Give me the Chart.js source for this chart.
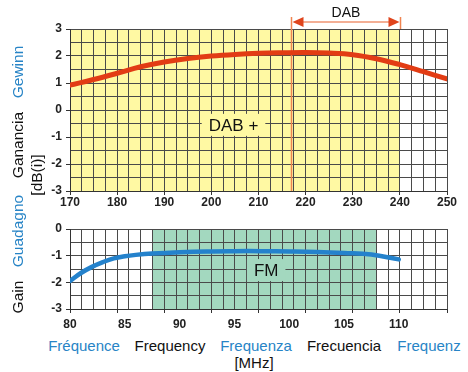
<!DOCTYPE html>
<html>
<head>
<meta charset="utf-8">
<script src="https://cdn.jsdelivr.net/npm/chart.js@4.4.1/dist/chart.umd.min.js"></script>
<style>
  body { margin: 0; background: #fff; }
  #wrap { position: relative; width: 468px; height: 372px; overflow: hidden; font-family: "Liberation Sans", Arial, sans-serif; }
  canvas { position: absolute; left: 0; }
  .lbl { position: absolute; white-space: nowrap; font-size: 15px; line-height: 1; transform: translate(-50%, -50%); }
  .rot { transform: translate(-50%, -50%) rotate(-90deg); font-size: 15.5px; }
  .blue { color: #2784c6; }
  .black { color: #111; }
</style>
</head>
<body>
<div id="wrap">
  <canvas id="dabChart" width="468" height="210" style="top:0"></canvas>
  <canvas id="fmChart" width="468" height="120" style="top:210px"></canvas>

  <div class="lbl rot blue" style="left:18px; top:72px">Gewinn</div>
  <div class="lbl rot black" style="left:18px; top:145px">Ganancia</div>
  <div class="lbl rot black" style="left:37px; top:175px">[dB(i)]</div>
  <div class="lbl rot blue" style="left:18px; top:231px">Guadagno</div>
  <div class="lbl rot black" style="left:18px; top:297px">Gain</div>

  <div class="lbl blue" style="left:84px; top:345px">Fréquence</div>
  <div class="lbl black" style="left:170px; top:345px">Frequency</div>
  <div class="lbl blue" style="left:256px; top:345px">Frequenza</div>
  <div class="lbl black" style="left:344px; top:345px">Frecuencia</div>
  <div class="lbl blue" style="left:429px; top:345px">Frequenz</div>
  <div class="lbl black" style="left:254px; top:362px">[MHz]</div>
</div>

<script>
// DAB band chart (MHz / dB(i))
const dabFreq = [170, 175, 180, 185, 190, 195, 200, 205, 210, 215, 220, 225, 230, 235, 240, 245, 250];
const dabGain = [0.92, 1.13, 1.36, 1.6, 1.78, 1.91, 2.0, 2.06, 2.1, 2.12, 2.13, 2.11, 2.05, 1.9, 1.68, 1.42, 1.15];
const dabTicks = [170, 180, 190, 200, 210, 220, 230, 240, 250];
const dabGainTicks = [3, 2, 1, 0, -1, -2, -3];
const dabPlusBand = [170, 240];
const dabBand = [216.8, 240];

// FM band chart
const fmFreq = [80, 81, 82, 83, 84, 85, 86, 87.5, 90, 92.5, 95, 97.5, 100, 102.5, 105, 107.5, 110];
const fmGain = [-1.95, -1.65, -1.42, -1.24, -1.1, -1.02, -0.97, -0.92, -0.87, -0.84, -0.83, -0.83, -0.84, -0.86, -0.9, -0.96, -1.14];
const fmTicks = [80, 85, 90, 95, 100, 105, 110];
const fmGainTicks = [0, -1, -2, -3];
const fmBand = [87.5, 108];
const fmRange = [80, 114.4];

const gridColor = '#4a4a4a';
const tickFont = { family: '"Liberation Sans", Arial, sans-serif', size: 12, weight: 'bold' };
const yellow = '#fff9a3';
const green = '#a3d8bf';
const orange = '#f08450';

Chart.defaults.animation = false;
Chart.defaults.plugins.legend.display = false;
Chart.defaults.plugins.tooltip.enabled = false;

// fills the band behind the grid, then draws the box label over it
const bandPlugin = {
    id: 'band',
    beforeDraw(chart, args, opts) {
        const { ctx, chartArea } = chart;
        const x = chart.scales.x;
        ctx.save();
        ctx.fillStyle = opts.color;
        const x1 = x.getPixelForValue(opts.range[0]);
        const x2 = x.getPixelForValue(opts.range[1]);
        ctx.fillRect(x1, chartArea.top, x2 - x1, chartArea.bottom - chartArea.top);
        ctx.restore();
    },
    beforeDatasetsDraw(chart, args, opts) {
        const { ctx } = chart;
        const px = chart.scales.x.getPixelForValue(opts.label.x);
        const py = chart.scales.y.getPixelForValue(opts.label.y);
        ctx.save();
        ctx.font = '17px "Liberation Sans", Arial, sans-serif';
        const w = ctx.measureText(opts.label.text).width;
        ctx.fillStyle = opts.color;
        ctx.fillRect(px - w / 2 - 7, py - 11, w + 14, 22);
        ctx.fillStyle = '#111';
        ctx.textAlign = 'center';
        ctx.textBaseline = 'middle';
        ctx.fillText(opts.label.text, px, py + 1);
        ctx.restore();
    }
};

// DAB marker: vertical line and double arrow above the plot
const dabMarker = {
    id: 'dabMarker',
    beforeDatasetsDraw(chart) {
        const { ctx, chartArea } = chart;
        const x = chart.scales.x;
        const x1 = Math.round(x.getPixelForValue(dabBand[0])) + 0.5;
        const x2 = Math.round(x.getPixelForValue(dabBand[1])) + 0.5;
        const ay = 22;
        ctx.save();
        ctx.strokeStyle = orange;
        ctx.lineWidth = 1.5;
        ctx.beginPath();
        ctx.moveTo(x1, 17); ctx.lineTo(x1, chartArea.bottom);
        ctx.moveTo(x2, 17); ctx.lineTo(x2, chartArea.top);
        ctx.stroke();
        ctx.strokeStyle = '#e8602c';
        ctx.lineWidth = 1.2;
        ctx.beginPath();
        ctx.moveTo(x1 + 6, ay); ctx.lineTo(x2 - 6, ay);
        ctx.stroke();
        ctx.fillStyle = '#e0441c';
        ctx.beginPath();
        ctx.moveTo(x1 + 1, ay); ctx.lineTo(x1 + 12, ay - 5); ctx.lineTo(x1 + 12, ay + 5); ctx.closePath();
        ctx.moveTo(x2 - 1, ay); ctx.lineTo(x2 - 12, ay - 5); ctx.lineTo(x2 - 12, ay + 5); ctx.closePath();
        ctx.fill();
        ctx.fillStyle = '#111';
        ctx.font = '14px "Liberation Sans", Arial, sans-serif';
        ctx.textAlign = 'center';
        ctx.textBaseline = 'middle';
        ctx.fillText('DAB', (x1 + x2) / 2, 13);
        ctx.restore();
    }
};

function gainAxis(min, max, labels) {
    return {
        type: 'linear', min: min, max: max,
        afterFit(scale) { scale.width = 70; },
        ticks: {
            stepSize: 0.5, autoSkip: false, padding: 4, color: '#222', font: tickFont,
            callback: v => labels.includes(v) ? String(v) : ''
        },
        grid: {
            color: gridColor, lineWidth: 1, tickLength: 4,
            tickColor: c => labels.includes(c.tick.value) ? '#333' : 'rgba(0,0,0,0)'
        },
        border: { color: '#333' }
    };
}

new Chart(document.getElementById('dabChart'), {
    type: 'line',
    data: {
        datasets: [{
            data: dabFreq.map((f, i) => ({ x: f, y: dabGain[i] })),
            borderColor: '#e23c14',
            borderWidth: 5,
            borderCapStyle: 'round',
            pointRadius: 0,
            tension: 0.4
        }]
    },
    options: {
        responsive: false,
        layout: { padding: { top: 29, right: 21, left: 0, bottom: 0 } },
        scales: {
            x: {
                type: 'linear', min: 170, max: 250,
                afterFit(scale) { scale.height = 19; },
                ticks: {
                    stepSize: 2.5, autoSkip: false, maxRotation: 0, padding: 0, color: '#222', font: tickFont,
                    callback: v => dabTicks.includes(v) ? String(v) : ''
                },
                grid: {
                    color: gridColor, lineWidth: 1, tickLength: 4,
                    tickColor: c => dabTicks.includes(c.tick.value) ? '#333' : 'rgba(0,0,0,0)'
                },
                border: { color: '#333' }
            },
            y: gainAxis(-3, 3, dabGainTicks)
        },
        plugins: {
            band: { range: dabPlusBand, color: yellow, label: { text: 'DAB +', x: 204.7, y: -0.55 } }
        }
    },
    plugins: [bandPlugin, dabMarker]
});

const fmStep = (fmRange[1] - fmRange[0]) / 32;

new Chart(document.getElementById('fmChart'), {
    type: 'line',
    data: {
        datasets: [{
            data: fmFreq.map((f, i) => ({ x: f, y: fmGain[i] })),
            borderColor: '#2482cc',
            borderWidth: 4.5,
            borderCapStyle: 'round',
            pointRadius: 0,
            tension: 0.4
        }]
    },
    options: {
        responsive: false,
        layout: { padding: { top: 19, right: 21, left: 0, bottom: 0 } },
        scales: {
            x: {
                type: 'linear', min: fmRange[0], max: fmRange[1], position: 'bottom',
                afterBuildTicks(scale) {
                    scale.ticks = Array.from({ length: 33 }, (_, i) => ({ value: fmRange[0] + i * fmStep }));
                },
                afterFit(scale) { scale.height = 4; },
                ticks: { display: false },
                grid: {
                    color: gridColor, lineWidth: 1, tickLength: 4,
                    tickColor: c => c.index % 4 === 0 ? '#333' : 'rgba(0,0,0,0)'
                },
                border: { color: '#333' }
            },
            xl: {
                type: 'linear', min: fmRange[0], max: fmRange[1], position: 'bottom',
                afterBuildTicks(scale) { scale.ticks = fmTicks.map(v => ({ value: v })); },
                afterFit(scale) { scale.height = 17; },
                ticks: { autoSkip: false, maxRotation: 0, padding: 4, color: '#222', font: tickFont },
                grid: { display: false, drawTicks: false },
                border: { display: false }
            },
            y: gainAxis(-3, 0, fmGainTicks)
        },
        plugins: {
            band: { range: fmBand, color: green, label: { text: 'FM', x: 97.9, y: -1.54 } }
        }
    },
    plugins: [bandPlugin]
});
</script>
</body>
</html>
